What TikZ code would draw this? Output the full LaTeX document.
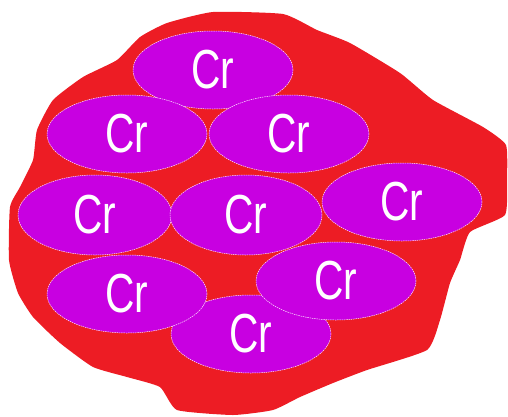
\documentclass[tikz,border=0pt]{standalone}
\usepackage{fontspec}
\setmainfont{Liberation Sans}
\usepackage{graphicx}
\definecolor{blob}{RGB}{237, 28, 36}
\definecolor{grain}{RGB}{200, 0, 225}
\definecolor{rim}{RGB}{255, 230, 255}
\usetikzlibrary{shapes.geometric, positioning}

\begin{document}
\begin{tikzpicture}[x=1pt, y=-1pt,
    crgrain/.style={ellipse, fill=grain, draw=rim, line width=0.5pt, dash pattern=on 1.5pt off 0.8pt,
        minimum width=160pt, minimum height=78pt, inner sep=0pt,
        font=\fontsize{55}{55}\selectfont, text=white}]
    \useasboundingbox (0,0) rectangle (508,416);
    % red matrix behind the grains
    \fill[blob] plot[smooth cycle, tension=0.3] coordinates {
        (213,12) (283,14) (317,30) (350,43) (400,73) (433,100) (483,127) (506,145)
        (507,180) (505,215) (470,232) (460,260) (450,283) (440,320) (427,350) (367,370)
        (333,383) (300,397) (273,410) (233,415) (177,410) (160,387) (127,377)
        (93,367) (60,343) (33,317) (18,293) (9,260) (10,207) (20,187) (33,160)
        (37,130) (53,100) (83,77) (117,60) (140,37) (167,23)};
    % grains
    \node[crgrain] (crTop)   at (213,70)  {\scalebox{0.74}[1]{Cr}};
    \node[crgrain] (crMidL)  at (127,134) {\scalebox{0.74}[1]{Cr}};
    \node[crgrain] (crMidR)  at (289,134) {\scalebox{0.74}[1]{Cr}};
    \node[crgrain, minimum width=154pt, minimum height=80pt] (crRowL) at (95,215)  {\scalebox{0.74}[1]{Cr}};
    \node[crgrain, minimum width=152pt, minimum height=80pt] (crRowC) at (246,215) {\scalebox{0.74}[1]{Cr}};
    \node[crgrain] (crRowR)  at (402,202) {\scalebox{0.74}[1]{Cr}};
    \node[crgrain] (crBotC)  at (251,334) {\scalebox{0.74}[1]{Cr}};
    \node[crgrain] (crLowL)  at (127,294) {\scalebox{0.74}[1]{Cr}};
    \node[crgrain] (crLowR)  at (336,281) {\scalebox{0.74}[1]{Cr}};
\end{tikzpicture}
\end{document}
